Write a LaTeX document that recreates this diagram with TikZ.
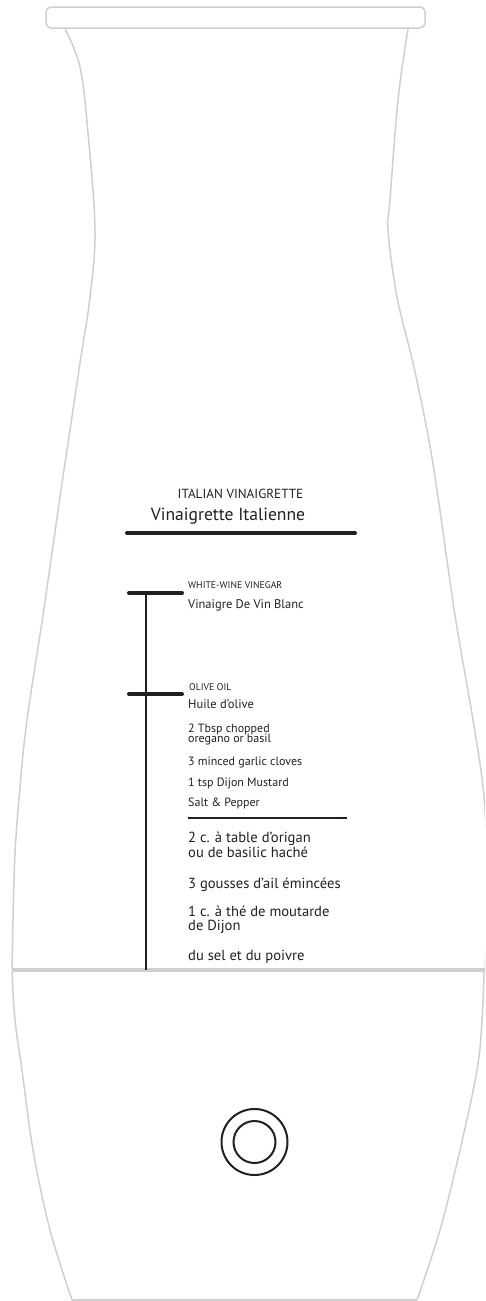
\documentclass[tikz,border=0pt]{standalone}
\usepackage{fontspec}
\setmainfont{PT Sans}
\definecolor{rimgray}{HTML}{CFCFCF}
\definecolor{ink}{HTML}{231F20}
\begin{document}
\begin{tikzpicture}[x=1pt,y=-1pt,
  outline/.style={draw=rimgray, line width=1.5pt},
  band/.style={draw=rimgray, line width=4pt},
  txt/.style={anchor=base west, inner sep=0pt, text=ink},
  ttl/.style={anchor=base, inner sep=0pt, text=ink},
  fsmall/.style={font=\fontsize{9.7}{10}\selectfont},
  fmid/.style={font=\fontsize{12.5}{13}\selectfont},
  feng/.style={font=\fontsize{12}{12}\selectfont},
  ffr/.style={font=\fontsize{14.6}{16}\selectfont},
  bar/.style={draw=ink, line width=4pt, line cap=round},
  stem/.style={draw=ink, line width=2pt},
  rule/.style={draw=ink, line width=1.4pt},
  knob/.style={draw=ink, line width=2pt}]
\useasboundingbox (0,0) rectangle (485,1301);
\begin{scope}
\clip (0,0) rectangle (485,1301);
% rim
\draw[outline, rounded corners=5pt] (46,7) rectangle (425,28);
% upper body
\draw[outline] plot[smooth, tension=0.6] coordinates {(65,29) (80,67) (88,133) (95,230) (90,297) (80,363) (70,430) (61,490) (43,615) (27,720) (20,787) (15,853) (13,920) (12,970)};
\draw[outline] plot[smooth, tension=0.6] coordinates {(408,29) (398,100) (390,200) (388,230) (397,297) (413,363) (427,430) (437,490) (455,615) (473,720) (483,787) (487,853) (487,920) (485,970)};
% lower body
\draw[outline] plot[smooth, tension=0.6] coordinates {(12,972) (15,1020) (22,1070) (33,1150) (50,1230) (72,1300)};
\draw[outline] plot[smooth, tension=0.6] coordinates {(484,972) (482,1020) (477,1070) (460,1150) (440,1230) (417,1300)};
\draw[outline] (72,1300) -- (417,1300);
% band
\draw[band] (12,970) -- (487,970);
\end{scope}
% title
\node[ttl, font=\fontsize{13.2}{13}\selectfont] (ten) at (240.5,498) {ITALIAN VINAIGRETTE};
\node[ttl, font=\fontsize{17.6}{18}\selectfont] (tfr) at (228,520) {Vinaigrette Italienne};
\coordinate (hl) at (127,533);
\coordinate (hr) at (355,533);
\draw[bar] (hl) -- (hr);
% scale
\coordinate (t1l) at (129,593);
\coordinate (t1r) at (182,593);
\coordinate (t2l) at (129,694);
\coordinate (t2r) at (182,694);
\coordinate (s1) at (146,593);
\coordinate (s2) at (146,970);
\draw[stem] (s1) -- (s2);
\draw[bar] (t1l) -- (t1r);
\draw[bar] (t2l) -- (t2r);
% labels
\node[txt, fsmall] (wv) at (188,588) {WHITE-WINE VINEGAR};
\node[txt, fmid] (vb) at (188,608) {Vinaigre De Vin Blanc};
\node[txt, fsmall] (oo) at (189,690) {OLIVE OIL};
\node[txt, fmid] (ho) at (188,708) {Huile d’olive};
\node[txt, feng] (e1a) at (188,732) {2 Tbsp chopped};
\node[txt, feng] (e1b) at (188,742) {oregano or basil};
\node[txt, feng] (e2) at (188,765) {3 minced garlic cloves};
\node[txt, feng] (e3) at (188,786) {1 tsp Dijon Mustard};
\node[txt, feng] (e4) at (188,806) {Salt \& Pepper};
\coordinate (rl) at (188,818);
\coordinate (rr) at (347,818);
\draw[rule] (rl) -- (rr);
\node[txt, ffr] (f1a) at (188,842) {2 c. à table d’origan};
\node[txt, ffr] (f1b) at (188,857) {ou de basilic haché};
\node[txt, ffr] (f2) at (188,888) {3 gousses d’ail émincées};
\node[txt, ffr] (f3a) at (188,916) {1 c. à thé de moutarde};
\node[txt, ffr] (f3b) at (188,930) {de Dijon};
\node[txt, ffr] (f4) at (188,960) {du sel et du poivre};
% knob
\node[knob, circle, minimum size=66pt, inner sep=0pt] (ko) at (254.5,1142) {};
\node[knob, circle, minimum size=42pt, inner sep=0pt] (ki) at (254.5,1142) {};
\end{tikzpicture}
\end{document}
